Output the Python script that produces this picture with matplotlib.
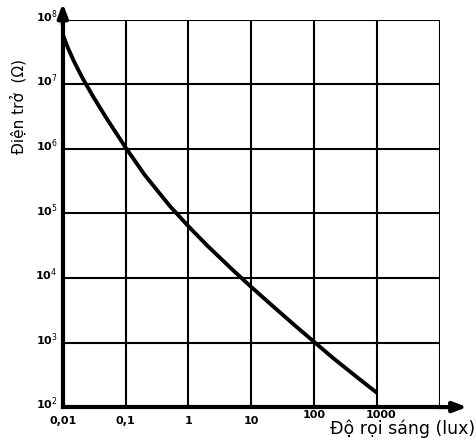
import matplotlib
matplotlib.use("Agg")
import matplotlib.pyplot as plt
import numpy as np

# Data (light intensity in lux, log10 of resistance in ohm)
lux = [0.01, 0.012, 0.015, 0.02, 0.03, 0.05, 0.1, 0.2, 0.5, 1, 2, 5, 10, 20, 50, 100, 200, 500, 1000]
log_r = [7.77, 7.57, 7.36, 7.12, 6.82, 6.47, 6.02, 5.6, 5.12, 4.8, 4.5, 4.13, 3.86, 3.6, 3.26, 3.01, 2.76, 2.45, 2.22]
resistance = [10 ** v for v in log_r]

x_ticks = [0.01, 0.1, 1, 10, 100, 1000]
x_tick_labels = ["0,01", "0,1", "1", "10", "100", "1000"]
y_exps = [2, 3, 4, 5, 6, 7, 8]

fig = plt.figure(figsize=(4.76, 4.42), dpi=100)
ax = fig.add_axes([0.132, 0.079, 0.792, 0.876])
ax.set_xscale("log")
ax.set_yscale("log")
ax.set_xlim(0.01, 10000)
ax.set_ylim(1e2, 1e8)

# grid lines
for xv in [0.1, 1, 10, 100, 1000, 10000]:
    ax.axvline(xv, color="black", lw=1.5, zorder=1)
for e in y_exps[1:]:
    ax.axhline(10 ** e, color="black", lw=1.5, zorder=1)

ax.plot(lux, resistance, color="black", lw=2.8, zorder=3,
        solid_capstyle="butt", solid_joinstyle="round")

for s in ["top", "right"]:
    ax.spines[s].set_visible(False)
ax.spines["left"].set_linewidth(3)
ax.spines["bottom"].set_linewidth(3)
ax.tick_params(which="both", length=0, labelleft=False, labelbottom=False)
ax.set_xticks([])
ax.set_yticks([])
ax.minorticks_off()

# arrows
ax.annotate("", xy=(0, 1.05), xycoords="axes fraction", xytext=(0, 0.98),
            arrowprops=dict(arrowstyle="-|>,head_length=0.8,head_width=0.3", color="black", lw=3),
            annotation_clip=False)
ax.annotate("", xy=(1.08, 0), xycoords="axes fraction", xytext=(0.99, 0),
            arrowprops=dict(arrowstyle="-|>,head_length=0.8,head_width=0.3", color="black", lw=3),
            annotation_clip=False)

# tick labels
for xv, lab in zip(x_ticks, x_tick_labels):
    ypos = 10 ** 1.88 if xv >= 100 else 10 ** 1.78
    ax.text(xv * (1.15 if xv == 1000 else 1.0), ypos, lab, ha="center", va="center",
            fontsize=8, fontweight="bold", clip_on=False)
for e in y_exps:
    ax.text(0.0055, 10 ** (e + 0.05), "10$^{%d}$" % e, ha="center", va="center",
            fontsize=8, fontweight="bold", clip_on=False)

fig.text(0.038, 0.76, "Điện trở  (Ω)", rotation=90, ha="center", va="center",
         fontsize=11, family="DejaVu Sans")
fig.text(0.998, 0.008, "Độ rọi sáng (lux)", ha="right", va="bottom",
         fontsize=12.5, family="DejaVu Sans")

fig.savefig("out.png", dpi=100)
